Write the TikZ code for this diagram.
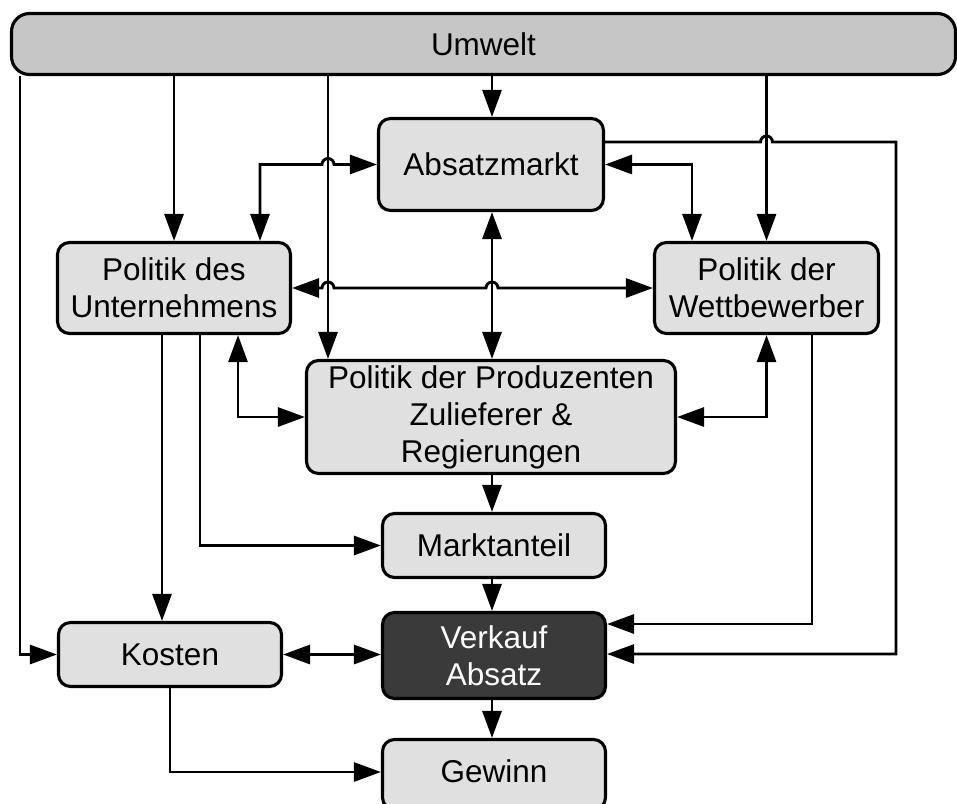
\documentclass[tikz,border=0pt]{standalone}
\usepackage{fontspec}
\setmainfont{Liberation Sans}
\usetikzlibrary{arrows.meta}
\definecolor{boxgray}{HTML}{E0E0E0}
\definecolor{envgray}{HTML}{C6C6C6}
\definecolor{keygray}{HTML}{3A3A3A}
\begin{document}
\begin{tikzpicture}[x=1pt,y=-1pt,
  box/.style={draw=black, line width=3.1pt, rounded corners=12pt, fill=boxgray,
    align=center, inner sep=0pt, font=\fontsize{31.5}{37}\selectfont},
  tip/.tip={Triangle[length=27pt,width=19pt]},
  conn/.style={line width=2.9pt, -tip},
  both/.style={line width=2.9pt, tip-tip}
]
\useasboundingbox (0,0) rectangle (957,803);
\clip (0,0) rectangle (957,803);

% boxes
\node[box, fill=envgray, rounded corners=18pt, minimum width=944pt, minimum height=61pt] (umw) at (483.5,44) {Umwelt};
\node[box, minimum width=225pt, minimum height=92pt] (abs) at (491,164.5) {Absatzmarkt};
\node[box, minimum width=233pt, minimum height=91pt] (pdu) at (174,288) {Politik des\\Unternehmens};
\node[box, minimum width=224pt, minimum height=91pt] (wet) at (766.5,288) {Politik der\\Wettbewerber};
\node[box, minimum width=369pt, minimum height=113pt] (prod) at (491,417) {Politik der Produzenten\\Zulieferer \&\\Regierungen};
\node[box, minimum width=223pt, minimum height=64pt] (mkt) at (494,545.5) {Marktanteil};
\node[box, fill=keygray, text=white, minimum width=223pt, minimum height=86pt] (verk) at (494,655.5) {Verkauf\\Absatz};
\node[box, minimum width=223pt, minimum height=70pt, text depth=0pt] (gew) at (494,774.5) {\raisebox{7pt}{Gewinn}};
\node[box, minimum width=223pt, minimum height=64pt] (kos) at (170,654.5) {Kosten};

% routing columns and rows
\coordinate (cL) at (20,0);
\coordinate (cK) at (162,0);
\coordinate (cM) at (200,0);
\coordinate (cP) at (238,0);
\coordinate (cA) at (260,0);
\coordinate (cU) at (328,0);
\coordinate (cC) at (492,0);
\coordinate (cW1) at (692,0);
\coordinate (cW3) at (812,0);
\coordinate (cR) at (896,0);
\coordinate (r142) at (0,142);
\coordinate (r624) at (0,624);
\coordinate (r654) at (0,654);
\coordinate (r772) at (0,772);

% from the environment
\draw[conn] (umw.south -| pdu.north) -- (pdu.north);
\draw[conn] (umw.south -| cU) -- (prod.north -| cU);
\draw[conn] (umw.south -| cC) -- (abs.north -| cC);
\draw[conn] (umw.south -| wet.north) -- (wet.north);
\draw[conn] (umw.south -| cL) |- (kos.west);

% market and company policies
\draw[both] (pdu.north -| cA) -- (cA |- abs.west)
  -- ([xshift=-6pt]cU |- abs.west) arc[start angle=180, end angle=0, radius=6pt]
  -- (abs.west);
\draw[both] (abs.east) -| (wet.north -| cW1);
\draw[conn] (abs.east |- r142)
  -- ([xshift=-6pt]wet.north |- r142) arc[start angle=180, end angle=0, radius=6pt]
  -- (cR |- r142) |- (verk.east |- r654);
\draw[both] (abs.south -| cC) -- (prod.north -| cC);
\draw[both] (pdu.east)
  -- ([xshift=-6pt]cU |- pdu.east) arc[start angle=180, end angle=0, radius=6pt]
  -- ([xshift=-6pt]cC |- pdu.east) arc[start angle=180, end angle=0, radius=6pt]
  -- (wet.west);
\draw[both] (pdu.south -| cP) |- (prod.west);
\draw[both] (wet.south) |- (prod.east);

% towards the results
\draw[conn] (pdu.south -| cK) -- (kos.north -| cK);
\draw[conn] (pdu.south -| cM) |- (mkt.west);
\draw[conn] (prod.south -| cC) -- (mkt.north -| cC);
\draw[conn] (mkt.south -| cC) -- (verk.north -| cC);
\draw[conn] (wet.south -| cW3) |- (verk.east |- r624);
\draw[both] (kos.east) -- (verk.west |- kos.east);
\draw[conn] (kos.south) |- (gew.west |- r772);
\draw[conn] (verk.south -| cC) -- (gew.north -| cC);
\end{tikzpicture}
\end{document}
